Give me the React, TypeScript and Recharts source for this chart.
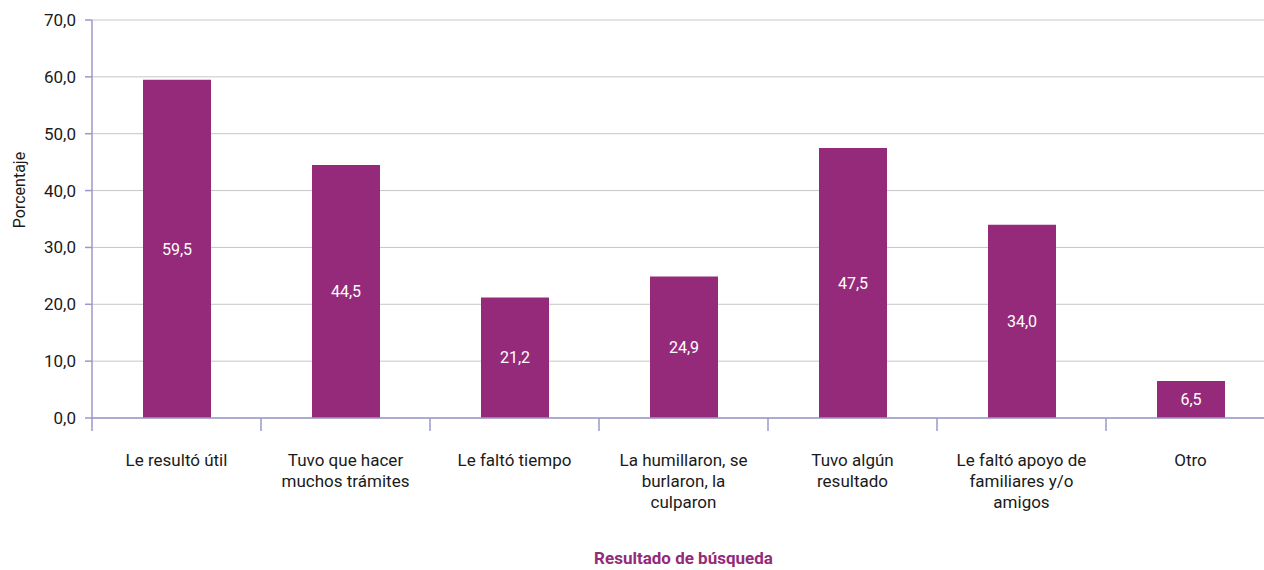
import { BarChart, Bar, XAxis, YAxis, CartesianGrid, LabelList } from 'recharts'

const categories = [
  'Le resultó útil',
  'Tuvo que hacer muchos trámites',
  'Le faltó tiempo',
  'La humillaron, se burlaron, la culparon',
  'Tuvo algún resultado',
  'Le faltó apoyo de familiares y/o amigos',
  'Otro',
]

// how each category label breaks into lines
const labelLines = [
  ['Le resultó útil'],
  ['Tuvo que hacer', 'muchos trámites'],
  ['Le faltó tiempo'],
  ['La humillaron, se', 'burlaron, la', 'culparon'],
  ['Tuvo algún', 'resultado'],
  ['Le faltó apoyo de', 'familiares y/o', 'amigos'],
  ['Otro'],
]

const porcentajes = [59.5, 44.5, 21.2, 24.9, 47.5, 34.0, 6.5]

const yTicks = [0, 10, 20, 30, 40, 50, 60, 70]

const data = categories.map((name, i) => ({ name, value: porcentajes[i], lines: labelLines[i] }))

const FONT = "'Liberation Sans Narrow', Roboto, sans-serif"
const BAR = '#952a7a'
const AXIS = '#9b99c9'
const TEXT = '#1a1a1a'

const fmt = (v: number) => v.toFixed(1).replace('.', ',')

const CHART_W = 1290
const PLOT_W = CHART_W - 92 - 15

function CategoryTick(props: any) {
  const { x, y, payload, index } = props
  const half = payload?.offset || PLOT_W / categories.length / 2
  const lines: string[] = labelLines[index] || [payload.value]
  return (
    <g>
      <line x1={x - half} y1={y} x2={x - half} y2={y + 13} stroke={AXIS} strokeWidth={1.5} />
      <text x={x} y={y + 48} textAnchor="middle" fill={TEXT} fontSize={17} fontFamily={FONT}>
        {lines.map((l, i) => (
          <tspan key={i} x={x} dy={i === 0 ? 0 : 21}>
            {l}
          </tspan>
        ))}
      </text>
    </g>
  )
}

function YTitle(props: any) {
  const vb = props.viewBox || { y: 20, height: 398 }
  const cx = 25
  const cy = vb.y + vb.height / 2 - 29
  return (
    <text
      x={cx}
      y={cy}
      transform={`rotate(-90, ${cx}, ${cy})`}
      textAnchor="middle"
      fill={TEXT}
      fontSize={16}
      fontFamily={FONT}
    >
      Porcentaje
    </text>
  )
}

export default function App() {
  return (
    <div style={{ position: 'fixed', left: 0, top: 0, width: 1264, height: 570, overflow: 'hidden', background: '#fff' }}>
      <BarChart
        width={CHART_W}
        height={570}
        data={data}
        margin={{ top: 20, right: 15, bottom: 0, left: 0 }}
        barSize={68}
      >
        <CartesianGrid vertical={false} stroke="#c6c6c6" strokeWidth={1} />
        <XAxis
          dataKey="name"
          interval={0}
          height={152}
          tickSize={0}
          tickMargin={0}
          tickLine={false}
          axisLine={{ stroke: AXIS, strokeWidth: 1.5 }}
          tick={<CategoryTick />}
          label={{
            value: 'Resultado de búsqueda',
            position: 'insideBottom',
            offset: 6,
            fill: '#952a7a',
            fontSize: 17,
            fontWeight: 'bold',
            fontFamily: FONT,
          }}
        />
        <YAxis
          domain={[0, 70]}
          ticks={yTicks}
          width={92}
          tickSize={7}
          tickMargin={9}
          tickFormatter={fmt}
          axisLine={{ stroke: AXIS, strokeWidth: 1.5 }}
          tickLine={{ stroke: AXIS, strokeWidth: 1.5 }}
          tick={{ fill: TEXT, fontSize: 17, fontFamily: FONT }}
          label={<YTitle />}
        />
        <Bar dataKey="value" fill={BAR} isAnimationActive={false}>
          <LabelList
            dataKey="value"
            position="center"
            formatter={(v: any) => fmt(Number(v))}
            fill="#ffffff"
            fontSize={16}
            fontFamily={FONT}
          />
        </Bar>
      </BarChart>
    </div>
  )
}
